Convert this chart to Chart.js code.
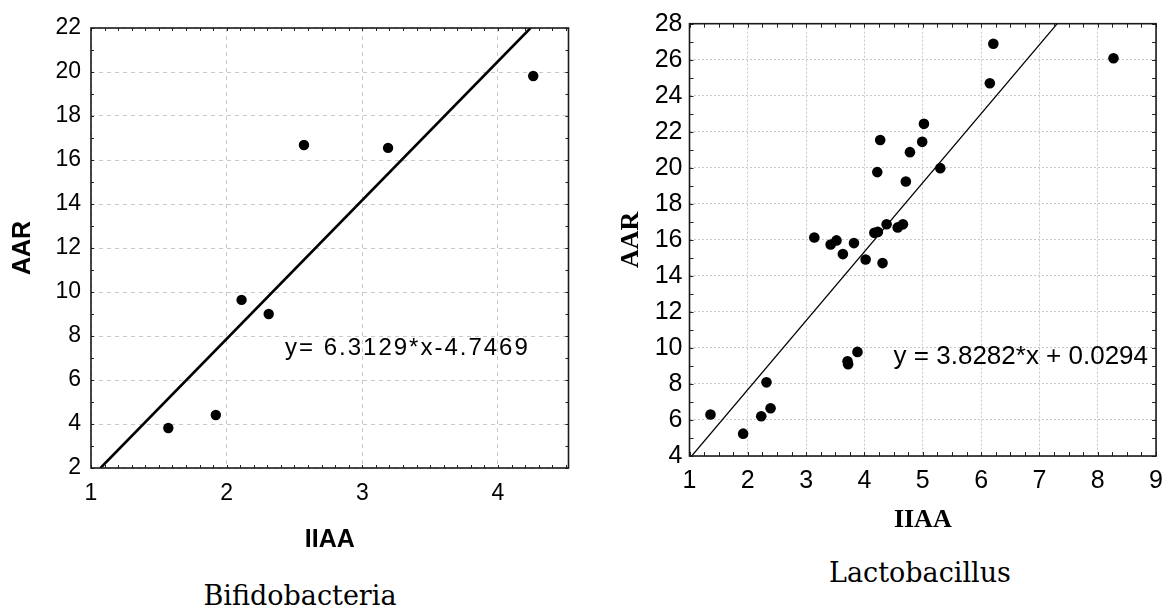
<!DOCTYPE html>
<html>
<head>
<meta charset="utf-8">
<script src="https://cdn.jsdelivr.net/npm/chart.js@4.4.1/dist/chart.umd.min.js"></script>
<style>
  html, body { margin: 0; padding: 0; background: #fff; }
  body { width: 1173px; height: 610px; position: relative; overflow: hidden; }
  canvas { position: absolute; top: 0; }
  #c1 { left: 0; }
  #c2 { left: 600px; }
  .cap { position: absolute; font-family: "DejaVu Serif", serif; font-size: 27px; line-height: 27px; color: #000; text-align: center; white-space: nowrap; }
</style>
</head>
<body>
<canvas id="c1" width="600" height="555"></canvas>
<canvas id="c2" width="573" height="536"></canvas>
<div class="cap" id="cap1" style="left:200px; width:200px; top:582px;">Bifidobacteria</div>
<div class="cap" id="cap2" style="left:820px; width:200px; top:559px;">Lactobacillus</div>
<script>
// ---------- Data: Bifidobacteria ----------
const bifX = [1.57, 1.92, 2.11, 2.31, 2.57, 3.19, 4.26];
const bifY = [3.82, 4.41, 9.64, 9.00, 16.68, 16.55, 19.82];
const bifFitX = [1.07, 4.24];
const bifFitY = [2.0, 22.0];
const bifXTicks = [1, 2, 3, 4];
const bifYTicks = [2, 4, 6, 8, 10, 12, 14, 16, 18, 20, 22];
const bifEquation = 'y= 6.3129*x-4.7469';

// ---------- Data: Lactobacillus ----------
const lacX = [5.02, 4.27, 4.99, 4.78, 4.22, 5.30, 4.71, 4.38, 4.17, 4.23, 4.57, 4.66, 3.14, 3.42, 3.52, 3.63, 3.82, 4.02, 4.31, 1.36, 1.92, 2.23, 2.32, 2.39, 3.71, 3.72, 3.88, 6.21, 6.15, 8.27];
const lacY = [22.44, 21.54, 21.44, 20.87, 19.76, 19.98, 19.24, 16.87, 16.39, 16.44, 16.69, 16.86, 16.13, 15.74, 15.97, 15.21, 15.82, 14.91, 14.71, 6.30, 5.24, 6.21, 8.09, 6.65, 9.26, 9.09, 9.78, 26.89, 24.69, 26.08];
const lacFitX = [1.0, 7.306];
const lacFitY = [3.858, 28.0];
const lacXTicks = [1, 2, 3, 4, 5, 6, 7, 8, 9];
const lacYTicks = [4, 6, 8, 10, 12, 14, 16, 18, 20, 22, 24, 26, 28];
const lacEquation = 'y = 3.8282*x + 0.0294';

const SANS = '"Liberation Sans", Arial, sans-serif';
const SERIF = '"Liberation Serif", "Times New Roman", serif';

function pts(xs, ys) { return xs.map((x, i) => ({ x: x, y: ys[i] })); }

const decor = {
  id: 'decor',
  afterDraw(chart, args, o) {
    const ctx = chart.ctx;
    const { left, right, top, bottom } = chart.chartArea;
    const xs = chart.scales.x, ys = chart.scales.y;
    ctx.save();
    // minor ticks, inward on all four sides
    ctx.strokeStyle = o.tickColor;
    ctx.lineWidth = 1;
    ctx.beginPath();
    const n0 = Math.ceil(xs.min / o.xStep - 1e-9), n1 = Math.floor(xs.max / o.xStep + 1e-9);
    for (let n = n0; n <= n1; n++) {
      const px = Math.round(xs.getPixelForValue(n * o.xStep)) + 0.5;
      ctx.moveTo(px, bottom); ctx.lineTo(px, bottom - o.tickLen);
      ctx.moveTo(px, top); ctx.lineTo(px, top + o.tickLen);
    }
    const m0 = Math.ceil(ys.min / o.yStep - 1e-9), m1 = Math.floor(ys.max / o.yStep + 1e-9);
    for (let m = m0; m <= m1; m++) {
      const py = Math.round(ys.getPixelForValue(m * o.yStep)) + 0.5;
      ctx.moveTo(left, py); ctx.lineTo(left + o.tickLen, py);
      ctx.moveTo(right, py); ctx.lineTo(right - o.tickLen, py);
    }
    ctx.stroke();
    // frame
    ctx.strokeStyle = o.boxColor;
    ctx.lineWidth = o.boxWidth;
    ctx.strokeRect(left, top, right - left, bottom - top);
    // equation text
    ctx.fillStyle = '#000';
    ctx.font = o.eqFont;
    if ('letterSpacing' in ctx) ctx.letterSpacing = o.eqSpacing;
    ctx.textAlign = 'left';
    ctx.textBaseline = 'middle';
    ctx.fillText(o.eqText, xs.getPixelForValue(o.eqX), ys.getPixelForValue(o.eqY));
    ctx.restore();
  }
};

function makeChart(id, cfg) {
  return new Chart(document.getElementById(id), {
    type: 'scatter',
    data: {
      datasets: [
        { type: 'line', data: pts(cfg.fitX, cfg.fitY), borderColor: '#000', borderWidth: cfg.fitWidth, pointRadius: 0, fill: false, tension: 0, order: 2 },
        { type: 'scatter', data: pts(cfg.xs, cfg.ys), backgroundColor: '#000', borderColor: '#000', borderWidth: 0, pointRadius: cfg.r, pointHoverRadius: cfg.r, order: 1 }
      ]
    },
    options: {
      responsive: false,
      animation: false,
      events: [],
      layout: { padding: cfg.padding },
      plugins: {
        legend: { display: false },
        tooltip: { enabled: false },
        decor: cfg.decor
      },
      scales: {
        x: {
          type: 'linear', min: cfg.xMin, max: cfg.xMax,
          afterBuildTicks: s => { s.ticks = cfg.xTicks.map(v => ({ value: v })); },
          afterFit: s => { s.height = cfg.xAxisH; },
          grid: { color: cfg.gridColor, lineWidth: 1, drawTicks: false },
          border: { display: false, dash: cfg.dash },
          ticks: { color: '#000', font: { family: SANS, size: cfg.tickSize }, padding: cfg.xTickPad, maxRotation: 0, autoSkip: false },
          title: { display: true, text: 'IIAA', color: '#000', font: { family: cfg.titleFamily, size: cfg.titleSize, weight: 'bold' }, padding: 0 }
        },
        y: {
          type: 'linear', min: cfg.yMin, max: cfg.yMax,
          afterBuildTicks: s => { s.ticks = cfg.yTicks.map(v => ({ value: v })); },
          afterFit: s => { s.width = cfg.yAxisW; },
          grid: { color: cfg.gridColor, lineWidth: 1, drawTicks: false },
          border: { display: false, dash: cfg.dash },
          ticks: { color: '#000', font: { family: SANS, size: cfg.tickSize }, padding: cfg.yTickPad, autoSkip: false },
          title: { display: true, text: 'AAR', color: '#000', font: { family: cfg.titleFamily, size: cfg.titleSize, weight: 'bold' }, padding: { top: cfg.yTitlePad, bottom: 0 } }
        }
      }
    },
    plugins: [decor]
  });
}

makeChart('c1', {
  xs: bifX, ys: bifY, fitX: bifFitX, fitY: bifFitY, xTicks: bifXTicks, yTicks: bifYTicks,
  xMin: 1, xMax: 4.52, yMin: 2, yMax: 22,
  padding: { left: 0, top: 28, right: 31.5, bottom: 0 },
  xAxisH: 87, yAxisW: 91, xTickPad: 12, yTickPad: 10, yTitlePad: 8,
  tickSize: 23, titleFamily: SANS, titleSize: 25,
  gridColor: '#c8c8c8', dash: [4, 4], fitWidth: 2.6, r: 5.2,
  decor: { tickColor: '#222', tickLen: 3, xStep: 0.1, yStep: 1, boxColor: '#1a1a1a', boxWidth: 1.6,
           eqText: bifEquation, eqX: 2.43, eqY: 7.45, eqFont: '24px ' + SANS, eqSpacing: '2px' }
});

makeChart('c2', {
  xs: lacX, ys: lacY, fitX: lacFitX, fitY: lacFitY, xTicks: lacXTicks, yTicks: lacYTicks,
  xMin: 1, xMax: 9, yMin: 4, yMax: 28,
  padding: { left: 0, top: 23.7, right: 10, bottom: 0 },
  xAxisH: 80, yAxisW: 89.5, xTickPad: 10, yTickPad: 7, yTitlePad: 16,
  tickSize: 25, titleFamily: SERIF, titleSize: 26,
  gridColor: '#c8c8c8', dash: [2, 2], fitWidth: 1.3, r: 5.3,
  decor: { tickColor: '#222', tickLen: 4, xStep: 0.25, yStep: 1, boxColor: '#1a1a1a', boxWidth: 1.6,
           eqText: lacEquation, eqX: 4.5, eqY: 9.48, eqFont: '26px ' + SANS, eqSpacing: '0px' }
});
</script>
</body>
</html>
